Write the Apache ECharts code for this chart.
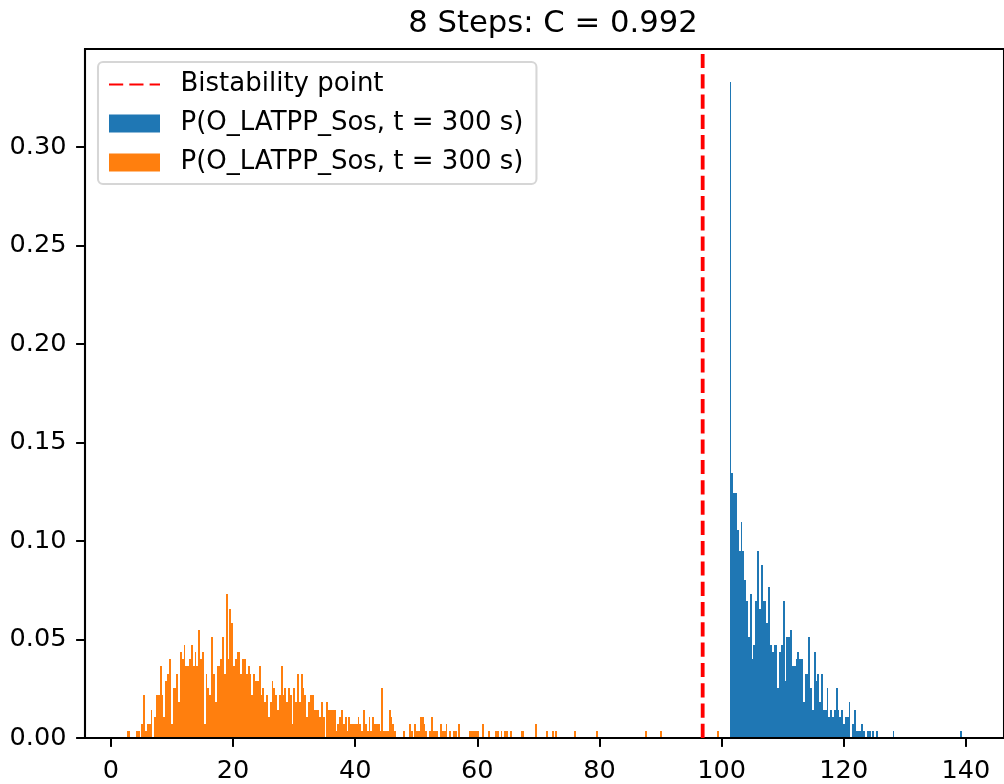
<!DOCTYPE html>
<html>
<head>
<meta charset="utf-8">
<script src="https://cdn.jsdelivr.net/npm/echarts@6/dist/echarts.min.js"></script>
<style>
  html, body { margin: 0; padding: 0; background: #fff; }
  #chart { width: 1004px; height: 784px; }
</style>
</head>
<body>
<div id="chart"></div>
<script>
// histogram bins: same width for both, left edge of the first bin given per series
const binWidth = 0.3;
const orangeStart = 2.6;
const blueStart = 101.3;
const bistability = 96.9;

// P(O_LATPP_Sos) per bin
const orangeP = [
  .0036,.0036,0,0,0,.0036,.0036,0,.0071,.0218,
  .0036,.0071,.0071,.0142,0,.0107,.0218,.0218,.0365,.0218,
  .0107,.0289,.0325,.0401,.0071,.0254,.0254,.0325,.0183,.0437,
  .0401,.0472,.0365,.0365,.0401,.0472,.0365,.0437,.0365,.0548,
  .0401,.0437,.0071,.0325,.0254,.0218,.0513,.0325,.0183,.0365,
  .0365,.0401,.0513,.0325,.0731,.0401,.0655,.0584,.0365,.0401,
  .0437,.0437,.0325,.0401,.0401,.0325,.0365,.0325,.0218,.0325,
  .0289,.0289,.0365,.0218,.0254,.0183,.0218,.0107,.0183,.0289,
  .0254,.0218,.0142,.0218,.0365,.0218,.0254,.0183,.0254,.0218,
  .0071,.0254,.0183,.0325,.0183,.0325,.0254,.0218,.0107,.0183,
  .0218,.0218,.0142,.0142,.0142,.0107,.0183,.0107,0,.0183,
  .0142,.0142,.0142,.0142,.0036,.0071,.0107,.0142,.0071,.0107,
  .0036,.0107,.0071,.0071,.0071,.0071,.0107,.0071,.0036,.0142,
  .0071,.0036,.0107,.0036,.0107,.0071,.0071,.0071,.0036,.0254,
  .0036,.0036,.0036,.0142,.0107,.0071,.0036,0,0,0,
  0,.0036,0,0,.0071,.0036,0,.0071,.0036,.0036,
  .0107,.0107,.0071,.0036,0,.0036,.0107,.0036,.0036,.0036,
  0,.0071,.0036,.0036,.0071,0,.0036,0,.0036,.0036,
  0,.0071,0,0,0,0,0,.0036,.0036,.0036,
  .0036,.0036,0,0,.0071,0,0,.0036,0,0,
  0,.0036,.0036,0,.0036,0,.0036,.0036,0,.0036,
  0,0,0,0,0,.0036,.0036,0,0,0,
  0,0,0,.0071,0,0,0,0,0,.0036,
  0,0,.0036,0,.0036,0,0,0,0,0,
  0,0,0,0,.0036,0,0,0,0,0,
  0,0,0,0,0,0,.0036,0,0,0,
  0,0,0,0,0,0,0,0,0,0,
  0,0,0,0,0,0,0,0,0,0,
  0,0,0,.0036,0,0,0,0,0,0,
  0,.0036,0,0,0,0,0,0,0,0,
  0,0,0,0,0,0,0,0,0,0,
  0,0,0,0,0,0,0,0,0,0,
  0,0,.0036
];

const blueP = [
  .333,.1347,.1242,.1242,.1058,.0947,.1094,.0947,.08,.0694,
  .0511,.0729,.04,.0471,.0694,.0947,.0653,.0876,.0694,.0694,
  .0582,.0764,.0471,.0435,.0471,.0471,.0253,.0435,.0471,.0694,
  .0289,.0511,.0511,.0547,.0365,.0365,.0401,.0436,.0401,.0401,
  .0183,.0325,.0325,.0512,.0254,.0142,.0436,.0289,.0325,.0183,
  .0325,.0142,.0142,.0254,.0107,.0142,.0107,.0142,.0254,.0142,
  .0107,.0142,.0071,.0107,.0107,.0183,0,.0071,.0142,.0036,
  .0036,.0036,.0071,.0036,0,.0036,.0036,0,.0036,0,
  .0036,0,0,0,0,0,0,0,0,.0036,
  0,0,0,0,0,0,0,0,0,0,
  0,0,0,0,0,0,0,0,0,0,
  0,0,0,0,0,0,0,0,0,0,
  0,0,0,0,0,0,.0036
];

const xTicks = [0, 20, 40, 60, 80, 100, 120, 140];
const yTicks = [0, 0.05, 0.10, 0.15, 0.20, 0.25, 0.30];

const legendText = {
  bistability: 'Bistability point',
  pBlue: 'P(O_LATPP_Sos, t = 300 s)',
  pOrange: 'P(O_LATPP_Sos, t = 300 s)'
};

const FONT = 'DejaVu Sans';
const FS = 25.6;          // tick text
const LW = 2.05;          // spines and ticks
const X_MIN = -4.24, X_MAX = 146.24;
const Y_MAX = 0.3497;

// [left edge, right edge, height], empty bins skipped
const toBins = (start, values) => values
  .map((p, i) => [start + i * binWidth, start + (i + 1) * binWidth, p])
  .filter(d => d[2] > 0);

// draw each bin snapped to whole pixels, like the crisp matplotlib bars
function renderBin(params, api) {
  const top = api.coord([api.value(0), api.value(2)]);
  const bottom = api.coord([api.value(1), 0]);
  const x0 = Math.round(top[0]);
  const x1 = Math.round(bottom[0]);
  const y0 = Math.round(top[1]);
  const y1 = Math.round(bottom[1]);
  return {
    type: 'rect',
    shape: { x: x0, y: y0, width: Math.max(1, x1 - x0), height: y1 - y0 },
    style: { fill: api.visual('color') }
  };
}

const chart = echarts.init(document.getElementById('chart'));

const option = {
  animation: false,
  backgroundColor: '#fff',
  title: {
    text: '8 Steps: C = 0.992',
    left: 548,
    top: 4,
    textAlign: 'center',
    textStyle: { fontFamily: FONT, fontSize: 30.7, fontWeight: 'normal', color: '#000' }
  },
  grid: {
    left: 85, top: 49, width: 925.5, height: 689,
    show: true, borderColor: '#000', borderWidth: LW, backgroundColor: 'transparent'
  },
  legend: {
    orient: 'vertical',
    left: 98,
    top: 62,
    padding: [9, 13, 8, 10],
    itemWidth: 51,
    itemHeight: 18,
    itemGap: 12,
    backgroundColor: 'rgba(255,255,255,0.8)',
    borderColor: '#d6d6d6',
    borderWidth: LW,
    borderRadius: 5,
    selectedMode: false,
    formatter: name => legendText[name],
    textStyle: { fontFamily: FONT, fontSize: 26, color: '#000', lineHeight: 27, padding: [0, 0, 0, 15.5] },
    data: [
      // hide the marker the line legend icon would put in the middle
      { name: 'bistability', itemStyle: { opacity: 0 } },
      { name: 'pBlue', icon: 'rect' },
      { name: 'pOrange', icon: 'rect' }
    ]
  },
  xAxis: {
    type: 'value',
    min: X_MIN,
    max: X_MAX,
    z: 3,
    axisLine: { show: true, onZero: false, lineStyle: { color: '#000', width: LW } },
    axisTick: { show: true, customValues: xTicks, length: 8.9, lineStyle: { color: '#000', width: LW } },
    axisLabel: { customValues: xTicks, margin: 20, fontFamily: FONT, fontSize: FS, color: '#000' },
    splitLine: { show: false }
  },
  yAxis: {
    type: 'value',
    min: 0,
    max: Y_MAX,
    z: 3,
    axisLine: { show: true, onZero: false, lineStyle: { color: '#000', width: LW } },
    axisTick: { show: true, customValues: yTicks, length: 8.9, lineStyle: { color: '#000', width: LW } },
    axisLabel: {
      customValues: yTicks, margin: 18.5, fontFamily: FONT, fontSize: FS, color: '#000',
      formatter: v => v.toFixed(2)
    },
    splitLine: { show: false }
  },
  series: [
    {
      name: 'bistability',
      type: 'line',
      symbol: 'none',
      data: [[bistability, 0], [bistability, Y_MAX]],
      lineStyle: { color: '#ff0000', width: 3.8, type: [14.2, 6.1] },
      itemStyle: { color: '#ff0000' },
      z: 4
    },
    {
      name: 'pBlue',
      type: 'custom',
      renderItem: renderBin,
      encode: { x: [0, 1], y: 2 },
      itemStyle: { color: '#1f77b4' },
      data: toBins(blueStart, blueP)
    },
    {
      name: 'pOrange',
      type: 'custom',
      renderItem: renderBin,
      encode: { x: [0, 1], y: 2 },
      itemStyle: { color: '#ff7f0e' },
      data: toBins(orangeStart, orangeP)
    }
  ]
};

chart.setOption(option);
</script>
</body>
</html>
